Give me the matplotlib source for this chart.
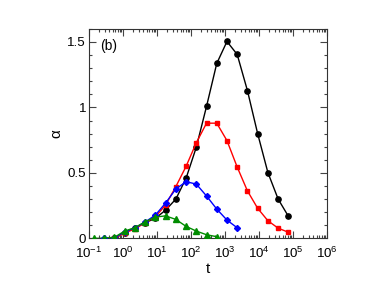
import math
import matplotlib
matplotlib.use("Agg")
import matplotlib.pyplot as plt
from matplotlib.ticker import LogLocator, MultipleLocator, FixedLocator, FuncFormatter, NullFormatter

plt.rcParams['font.family'] = ['Liberation Sans', 'DejaVu Sans']
plt.rcParams['mathtext.fontset'] = 'custom'
plt.rcParams['mathtext.rm'] = 'Liberation Sans'
plt.rcParams['mathtext.it'] = 'Liberation Sans:italic'

t_all = [0.14, 0.28, 0.56, 1.12, 2.25, 4.5, 9.0, 18, 36, 72, 144, 288, 576,
         1150, 2300, 4600, 9200, 18400, 36900, 73700]

t_black = t_all[2:20]
a_black = [0.0, 0.045, 0.08, 0.12, 0.153, 0.216, 0.30, 0.459, 0.696, 1.008,
           1.336, 1.504, 1.405, 1.129, 0.80, 0.503, 0.30, 0.169]

t_red = t_all[2:20]
a_red = [0.0, 0.042, 0.072, 0.12, 0.165, 0.255, 0.395, 0.55, 0.73, 0.88,
         0.88, 0.747, 0.545, 0.363, 0.23, 0.135, 0.078, 0.047]

t_blue = t_all[1:15]
a_blue = [0.0, 0.003, 0.05, 0.08, 0.125, 0.178, 0.27, 0.377, 0.433, 0.415,
          0.324, 0.224, 0.14, 0.081]

t_green = t_all[0:13]
a_green = [0.0, 0.002, 0.008, 0.056, 0.082, 0.127, 0.163, 0.172, 0.145,
           0.092, 0.056, 0.028, 0.013]

fig = plt.figure(figsize=(3.85, 2.98), dpi=100)
ax = fig.add_axes([0.231, 0.200, 0.618, 0.703])

ms = 3.8
lw = 1.0
ax.plot(t_black, a_black, '-o', color='black', ms=ms, lw=lw, zorder=3)
ax.plot(t_red, a_red, '-s', color='#ff0000', ms=ms * 0.9, lw=lw, zorder=3)
ax.plot(t_blue, a_blue, '-D', color='#0000ff', ms=ms * 0.8, lw=lw, zorder=4)
ax.plot(t_green, a_green, '-^', color='#008c00', ms=ms, lw=lw, zorder=5)

ax.set_xscale('log')
ax.set_xlim(0.1, 1e6)
ax.set_ylim(0, 1.6)

ax.xaxis.set_major_locator(LogLocator(base=10, numticks=20))
ax.xaxis.set_minor_locator(LogLocator(base=10, subs=[2, 3, 4, 5, 6, 7, 8, 9], numticks=20))
ax.xaxis.set_minor_formatter(NullFormatter())
ax.xaxis.set_major_formatter(FuncFormatter(lambda v, p: r'$\mathregular{10^{%d}}$' % round(math.log10(v))))

ax.yaxis.set_major_locator(FixedLocator([0, 0.5, 1.0, 1.5]))
ax.yaxis.set_minor_locator(MultipleLocator(0.1))
ax.yaxis.set_major_formatter(FuncFormatter(lambda v, p: {0: '0', 0.5: '0.5', 1.0: '1', 1.5: '1.5'}.get(round(v, 2), '')))

ax.tick_params(which='both', direction='in', top=True, right=True, labelsize=9.6, width=0.8, color='#444444')
ax.tick_params(which='major', length=5)
ax.tick_params(which='minor', length=2.5)
ax.tick_params(axis='y', which='major', pad=2)
ax.tick_params(axis='x', which='major', pad=5)
for s in ax.spines.values():
    s.set_linewidth(0.8)
    s.set_color('#333333')

ax.set_xlabel('t', fontsize=11, labelpad=1)
ax.set_ylabel('α', fontsize=11, labelpad=3)
ax.text(0.049, 0.92, '(b)', transform=ax.transAxes, fontsize=10, va='center', ha='left')

fig.savefig('out.png', dpi=100)
